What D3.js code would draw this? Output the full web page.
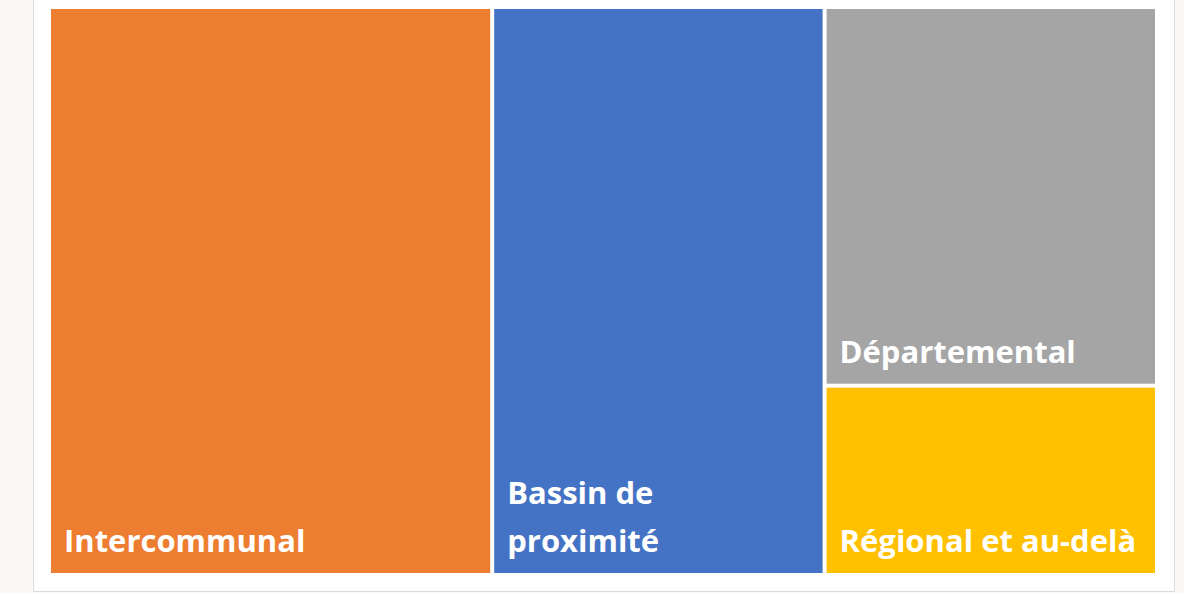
<!DOCTYPE html>
<html>
<head>
<meta charset="utf-8">
<script src="https://cdn.jsdelivr.net/npm/d3@7"></script>
<style>
  body { margin: 0; background: #faf9f7; }
  svg { display: block; }
</style>
</head>
<body>
<div class="wrapper"></div>
<script>
const w = 1184
const h = 593

// treemap data
const categories = ["Intercommunal", "Bassin de proximité", "Départemental", "Régional et au-delà"]
const values = [40, 30, 20, 10]
const labelLines = [["Intercommunal"], ["Bassin de", "proximité"], ["Départemental"], ["Régional et au-delà"]]
const colors = ["#ED7D31", "#4472C4", "#A5A5A5", "#FFC000"]

const svg = d3.select(".wrapper")
  .append("svg")
  .attr("width", w)
  .attr("height", h)

// white chart panel with light frame on left, right and bottom
svg.append("rect")
  .attr("x", 33.5).attr("y", -2)
  .attr("width", 1141).attr("height", 593.5)
  .attr("fill", "white")
  .attr("stroke", "#dcdcdc")
  .attr("stroke-width", 1)

const root = d3.hierarchy({
  children: categories.map((c, i) => ({ name: c, value: values[i], lines: labelLines[i], color: colors[i] }))
}).sum((d) => d.value || 0)

d3.treemap()
  .tile(d3.treemapSquarify.ratio(1))
  .size([1104, 564])
  .paddingInner(4)(root)

const g = svg.append("g").attr("transform", "translate(51, 9)")

const cell = g.selectAll("g")
  .data(root.leaves())
  .enter()
  .append("g")

cell.append("rect")
  .attr("x", (d) => d.x0)
  .attr("y", (d) => d.y0)
  .attr("width", (d) => d.x1 - d.x0)
  .attr("height", (d) => d.y1 - d.y0)
  .attr("fill", (d) => d.data.color)

cell.append("text")
  .attr("fill", "white")
  .attr("font-family", "'Open Sans', sans-serif")
  .attr("font-weight", "bold")
  .attr("font-size", 31)
  .selectAll("tspan")
  .data((d) => d.data.lines.map((t, i, arr) => ({ t: t, x: d.x0 + 13, y: d.y1 - 21 - (arr.length - 1 - i) * 48 })))
  .enter()
  .append("tspan")
  .attr("x", (d) => d.x)
  .attr("y", (d) => d.y)
  .text((d) => d.t)
</script>
</body>
</html>
